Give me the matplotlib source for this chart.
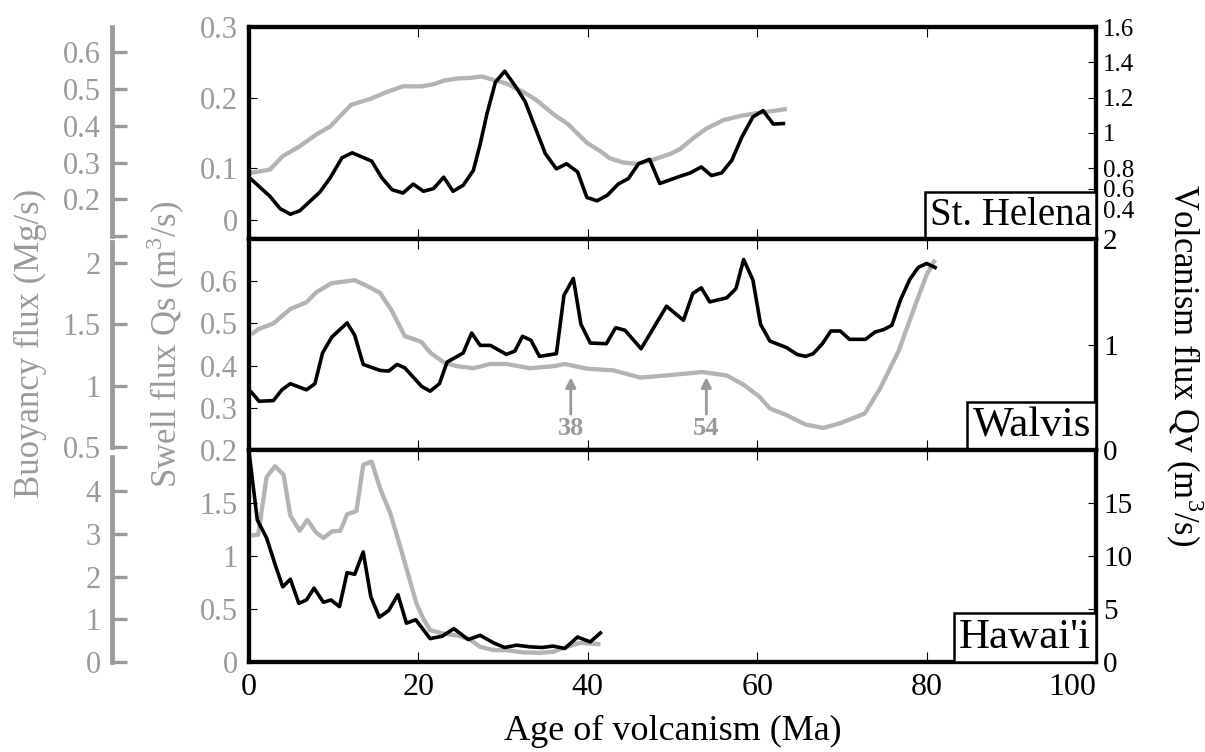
import matplotlib
matplotlib.use('Agg')
import matplotlib.pyplot as plt
from matplotlib.offsetbox import AnchoredText

plt.rcParams['font.family'] = ['Liberation Serif', 'DejaVu Serif']
plt.rcParams['mathtext.fontset'] = 'custom'
plt.rcParams['mathtext.rm'] = 'Liberation Serif'

GRAY_LINE = '#b3b3b3'
GRAY_TEXT = '#9a9a9a'

# --- St. Helena ---
sth_swell_age = [0.1, 2.5, 4.0, 6.0, 8.0, 9.6, 10.8, 12.1, 14.3, 16.3, 18.2, 20.4, 21.8, 23.0,
                 24.5, 26.1, 27.5, 28.9, 30.4, 32.4, 34.0, 35.9, 37.7, 39.9, 41.5, 42.6, 44.2,
                 45.8, 47.7, 49.7, 50.9, 52.5, 54.0, 56.0, 58.0, 59.9, 61.9, 63.5]
sth_swell = [0.093, 0.098, 0.117, 0.131, 0.148, 0.159, 0.174, 0.190, 0.198, 0.208, 0.216, 0.216,
             0.219, 0.224, 0.227, 0.228, 0.230, 0.225, 0.220, 0.208, 0.196, 0.177, 0.162, 0.136,
             0.124, 0.114, 0.108, 0.106, 0.112, 0.120, 0.127, 0.143, 0.156, 0.168, 0.174, 0.178,
             0.181, 0.184]
sth_volc_age = [0.1, 2.5, 3.7, 4.9, 6.0, 8.4, 9.6, 11.0, 12.2, 14.5, 15.7, 16.9, 18.2, 19.4, 20.6,
                21.8, 23.0, 24.1, 25.3, 26.5, 27.3, 28.1, 29.1, 30.2, 31.4, 32.6, 33.8, 35.0,
                36.3, 37.5, 38.8, 39.9, 41.1, 42.3, 43.6, 44.8, 46.0, 47.3, 48.5, 50.9, 52.1,
                53.4, 54.6, 55.8, 57.0, 58.2, 59.5, 60.7, 61.9, 63.1]
sth_volc = [0.745, 0.640, 0.570, 0.539, 0.558, 0.665, 0.745, 0.859, 0.887, 0.840, 0.745, 0.678,
            0.659, 0.710, 0.669, 0.684, 0.749, 0.669, 0.703, 0.787, 0.935, 1.107, 1.287, 1.350,
            1.269, 1.179, 1.030, 0.882, 0.796, 0.825, 0.779, 0.634, 0.615, 0.646, 0.710, 0.741,
            0.825, 0.850, 0.713, 0.754, 0.773, 0.807, 0.758, 0.773, 0.844, 0.977, 1.091, 1.126,
            1.050, 1.053]

# --- Walvis ---
wal_swell_age = [0.3, 1.1, 2.9, 4.9, 6.8, 8.0, 9.8, 12.5, 13.9, 15.5, 16.9, 18.4, 20.4, 21.4,
                 23.0, 24.5, 26.5, 28.5, 30.4, 33.2, 36.0, 37.3, 39.9, 43.0, 46.2, 49.3, 53.5,
                 56.4, 58.4, 60.3, 61.5, 63.5, 65.7, 67.8, 69.8, 72.7, 74.5, 76.7, 78.4, 80.0, 81.0]
wal_swell = [0.474, 0.486, 0.500, 0.534, 0.550, 0.574, 0.595, 0.602, 0.589, 0.572, 0.529, 0.470,
             0.456, 0.431, 0.408, 0.399, 0.394, 0.404, 0.404, 0.394, 0.399, 0.404, 0.393, 0.389,
             0.372, 0.377, 0.385, 0.377, 0.355, 0.326, 0.299, 0.283, 0.261, 0.253, 0.264, 0.287,
             0.346, 0.435, 0.529, 0.615, 0.650]
wal_volc_age = [0.3, 1.2, 2.9, 3.9, 4.9, 6.8, 7.8, 8.7, 9.8, 11.6, 12.5, 13.5, 15.5, 16.5, 17.5,
                18.4, 20.4, 21.4, 22.5, 23.4, 25.3, 26.3, 27.3, 28.5, 30.4, 31.4, 32.3, 33.3,
                34.3, 36.3, 37.2, 38.3, 39.2, 40.3, 42.2, 43.3, 44.4, 46.3, 49.3, 51.3, 52.4,
                53.4, 54.4, 56.4, 57.5, 58.4, 59.5, 60.4, 61.5, 63.5, 64.7, 65.7, 66.6, 67.7,
                68.7, 69.8, 70.9, 72.8, 73.9, 74.9, 75.9, 76.9, 78.0, 79.0, 80.0, 81.0]
wal_volc = [0.550, 0.464, 0.470, 0.572, 0.630, 0.572, 0.630, 0.920, 1.071, 1.204, 1.087, 0.812,
            0.755, 0.749, 0.812, 0.780, 0.604, 0.559, 0.630, 0.834, 0.920, 1.109, 0.992, 0.992,
            0.907, 0.938, 1.078, 1.040, 0.888, 0.913, 1.466, 1.624, 1.191, 1.014, 1.008, 1.159,
            1.135, 0.960, 1.362, 1.229, 1.482, 1.536, 1.403, 1.441, 1.529, 1.804, 1.609, 1.191,
            1.033, 0.970, 0.907, 0.888, 0.913, 1.008, 1.128, 1.128, 1.049, 1.049, 1.118, 1.140,
            1.182, 1.419, 1.614, 1.728, 1.766, 1.728]
wal_marks = [38, 54]

# --- Hawai'i ---
haw_swell_age = [0.3, 1.1, 2.1, 3.1, 4.1, 4.9, 6.0, 6.9, 7.9, 8.8, 9.8, 10.8, 11.6, 12.7, 13.5,
                 14.5, 15.5, 16.7, 17.8, 18.8, 19.8, 20.6, 21.4, 23.0, 24.5, 26.1, 27.3, 28.9,
                 30.4, 32.4, 34.4, 35.9, 37.5, 39.1, 41.5]
haw_swell = [1.196, 1.203, 1.748, 1.850, 1.769, 1.383, 1.240, 1.343, 1.227, 1.171, 1.234, 1.240,
             1.395, 1.427, 1.863, 1.894, 1.638, 1.405, 1.109, 0.829, 0.549, 0.408, 0.300, 0.268,
             0.252, 0.212, 0.143, 0.112, 0.112, 0.090, 0.087, 0.096, 0.143, 0.180, 0.168]
haw_volc_age = [0.0, 1.0, 2.1, 3.1, 4.0, 4.9, 5.9, 6.8, 7.7, 8.8, 9.7, 10.7, 11.6, 12.5, 13.5,
                14.4, 15.4, 16.5, 17.6, 18.6, 19.7, 21.4, 22.8, 24.2, 25.9, 27.3, 28.9, 30.2,
                31.6, 33.2, 34.6, 35.9, 37.3, 38.8, 40.3, 41.5]
haw_volc = [20.0, 13.43, 11.71, 9.22, 7.10, 7.82, 5.54, 5.86, 6.98, 5.64, 5.86, 5.23, 8.44, 8.29,
            10.40, 6.17, 4.23, 4.86, 6.36, 3.67, 3.99, 2.21, 2.43, 3.15, 2.12, 2.52, 1.80, 1.37,
            1.59, 1.43, 1.37, 1.50, 1.28, 2.36, 1.90, 2.74]

# tick labels per panel
age_ticks = [0, 20, 40, 60, 80, 100]
sth_swell_labels = ['0', '0.1', '0.2', '0.3']
sth_volc_labels = ['0.4', '0.6', '0.8', '1', '1.2', '1.4', '1.6']
sth_buoy_labels = ['', '0.2', '0.3', '0.4', '0.5', '0.6']
wal_swell_labels = ['0.2', '0.3', '0.4', '0.5', '0.6']
wal_volc_labels = ['0', '1', '2']
wal_buoy_labels = ['0.5', '1', '1.5', '2']
haw_swell_labels = ['0', '0.5', '1', '1.5']
haw_volc_labels = ['0', '5', '10', '15']
haw_buoy_labels = ['0', '1', '2', '3', '4']

panels = [
    dict(name='St. Helena', sa=sth_swell_age, s=sth_swell, va=sth_volc_age, v=sth_volc,
         slim=(0, 0.3), sticks=[0.026, 0.1, 0.2, 0.3], slab=sth_swell_labels,
         vlim=(0.4, 1.6), vticks=[0.565, 0.684, 0.8, 1.0, 1.2, 1.4, 1.6], vlab=sth_volc_labels,
         vsize=18, nsize=28,
         blim=(0.0932, 0.6685), bticks=[0.1, 0.2, 0.3, 0.4, 0.5, 0.6], blab=sth_buoy_labels,
         bbounds=(0.1, 0.668)),
    dict(name='Walvis', sa=wal_swell_age, s=wal_swell, va=wal_volc_age, v=wal_volc,
         slim=(0.2, 0.7), sticks=[0.2, 0.3, 0.4, 0.5, 0.6], slab=wal_swell_labels,
         vlim=(0, 2), vticks=[0, 1, 2], vlab=wal_volc_labels, vsize=21, nsize=31,
         blim=(0.4756, 2.196), bticks=[0.5, 1, 1.5, 2], blab=wal_buoy_labels,
         bbounds=(0.5, 2.17)),
    dict(name="Hawai'i", sa=haw_swell_age, s=haw_swell, va=haw_volc_age, v=haw_volc,
         slim=(0, 2), sticks=[0, 0.5, 1, 1.5], slab=haw_swell_labels,
         vlim=(0, 20), vticks=[0, 5, 10, 15], vlab=haw_volc_labels, vsize=21, nsize=31,
         blim=(0, 4.954), bticks=[0, 1, 2, 3, 4], blab=haw_buoy_labels,
         bbounds=(0, 4.79)),
]

fig = plt.figure(figsize=(12.05, 7.52), dpi=100)
left, width = 0.2065, 0.7031
bottom0, top0 = 0.1197, 0.964
h = (top0 - bottom0) / 3

axes = []
for i, p in enumerate(panels):
    ax = fig.add_axes([left, top0 - (i + 1) * h, width, h])
    axb = ax.twinx()
    axr = ax.twinx()
    axes.append(ax)

    # swell flux (gray, left)
    ax.plot(p['sa'], p['s'], color=GRAY_LINE, lw=3.1, solid_capstyle='butt')
    ax.set_xlim(0, 100)
    ax.set_ylim(*p['slim'])
    ax.set_yticks(p['sticks'])
    ax.set_yticklabels(p['slab'])
    ax.set_xticks(age_ticks)
    ax.tick_params(axis='x', direction='in', top=True, bottom=True, length=7, width=0.8,
                   labelsize=23, pad=8, labelbottom=(i == 2))
    ax.tick_params(axis='y', direction='in', left=True, right=False, length=6, width=0.8,
                   labelsize=22, labelcolor=GRAY_TEXT, pad=8)

    # volcanism flux (black, right)
    axr.plot(p['va'], p['v'], color='black', lw=2.6)
    axr.set_ylim(*p['vlim'])
    axr.set_yticks(p['vticks'])
    axr.set_yticklabels(p['vlab'])
    axr.tick_params(axis='y', direction='in', length=6, width=0.8, labelsize=p['vsize'], pad=5)

    # buoyancy flux (offset gray spine)
    axb.set_ylim(*p['blim'])
    axb.yaxis.tick_left()
    for side in ['right', 'top', 'bottom']:
        axb.spines[side].set_visible(False)
    sp = axb.spines['left']
    sp.set_position(('axes', -0.1615))
    sp.set_color(GRAY_TEXT)
    sp.set_linewidth(3.4)
    sp.set_bounds(*p['bbounds'])
    axb.set_yticks(p['bticks'])
    axb.set_yticklabels(p['blab'])
    axb.tick_params(axis='y', direction='in', length=11, width=2.4, color=GRAY_TEXT,
                    labelcolor=GRAY_TEXT, labelsize=22, pad=8)

    for a in (ax, axr):
        for side in ['left', 'right', 'top', 'bottom']:
            a.spines[side].set_linewidth(3.0)

    at = AnchoredText(p['name'], loc='lower right', borderpad=0, pad=0.12,
                      prop=dict(size=p['nsize']), frameon=True)
    at.patch.set_boxstyle('square,pad=0')
    at.patch.set_linewidth(1.8)
    axr.add_artist(at)

    if p['name'] == 'Walvis':
        for m in wal_marks:
            ax.annotate(str(m), xy=(m, 0.373), xytext=(m, 0.252), ha='center', va='center',
                        fontsize=19, fontweight='bold', color=GRAY_TEXT,
                        arrowprops=dict(arrowstyle='-|>', color=GRAY_TEXT, lw=2,
                                        mutation_scale=15, shrinkA=0, shrinkB=0))

# last age label sits left of its tick, clear of the right-axis "0"
axes[2].get_xticklabels()[-1].set_horizontalalignment('right')
axes[2].set_xlabel('Age of volcanism (Ma)', fontsize=26, labelpad=9)

fig.text(30 / 1205, 1 - 343 / 752, 'Buoyancy flux (Mg/s)', rotation=90, ha='center',
         va='center', fontsize=25, color=GRAY_TEXT)
fig.text(166 / 1205, 1 - 344 / 752, r'Swell flux Qs (m$^{3}$/s)', rotation=90, ha='center',
         va='center', fontsize=25, color=GRAY_TEXT)
fig.text(1184 / 1205, 1 - 365 / 752, r'Volcanism flux Qv (m$^{3}$/s)', rotation=270,
         ha='center', va='center', fontsize=25, color='black')

fig.savefig('out.png', dpi=100)
